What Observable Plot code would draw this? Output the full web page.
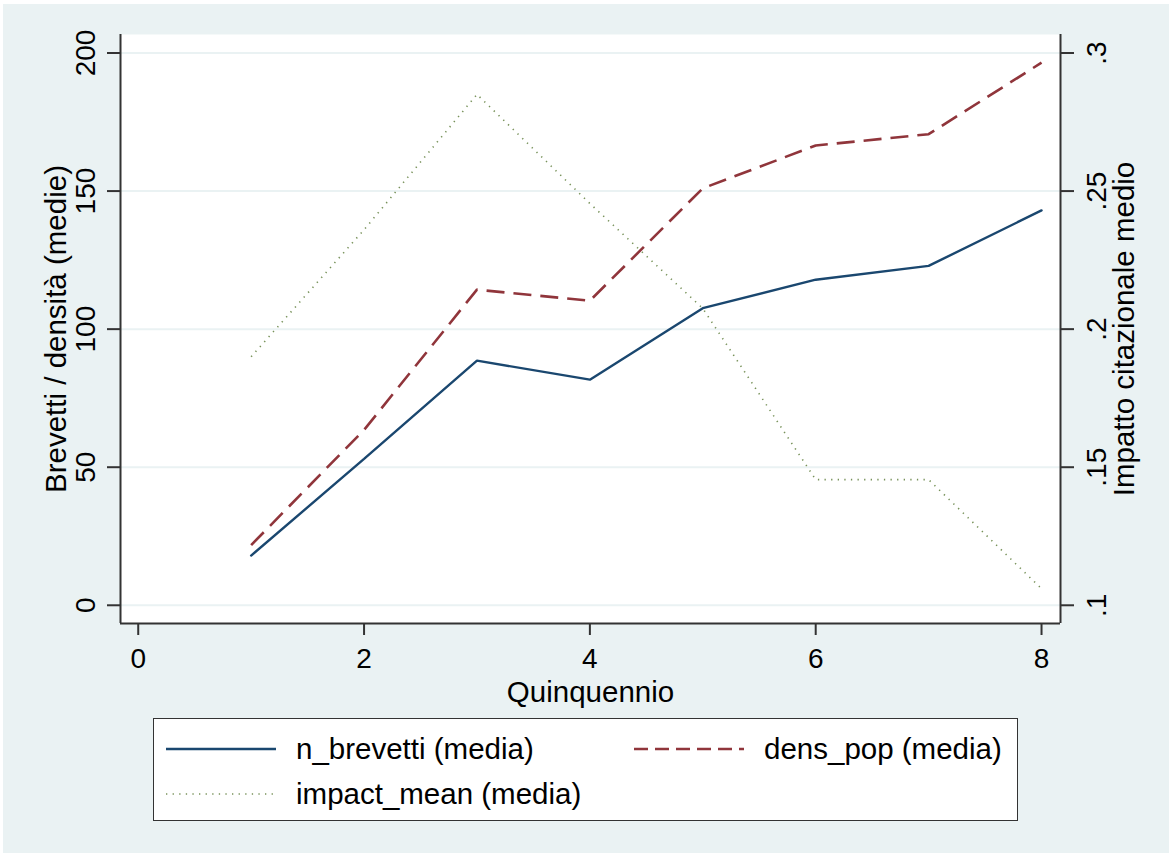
<!DOCTYPE html>
<html>
<head>
<meta charset="utf-8">
<script src="https://cdn.jsdelivr.net/npm/d3@7"></script>
<script src="https://cdn.jsdelivr.net/npm/@observablehq/plot@0.6"></script>
<style>
  html, body { margin: 0; padding: 0; background: white; }
  body { width: 1172px; height: 857px; position: relative; overflow: hidden;
         font-family: "Liberation Sans", Arial, sans-serif; }
  #bg { position: absolute; left: 3px; top: 4px; right: 3px; bottom: 4px; background: #eaf2f3; }
  #chart { position: absolute; left: 0; top: 0; }
  #legend { position: absolute; left: 153px; top: 718px; width: 865px; height: 103px;
            box-sizing: border-box; border: 1.6px solid #333; background: white; }
  .item { position: absolute; display: flex; align-items: center; height: 40px;
          transform: translateY(-50%); font-size: 29.5px; color: #000; white-space: nowrap; }
  .item svg { margin-right: 20px; overflow: visible; }
</style>
</head>
<body>
<div id="bg"></div>
<div id="chart"></div>
<div id="legend"></div>
<script>
// ---- Data ----
const quinquennio = [1, 2, 3, 4, 5, 6, 7, 8];
const nBrevetti   = [18.0, 53.0, 88.6, 81.7, 107.6, 117.9, 122.9, 143.0];
const densPop     = [21.8, 63.5, 114.3, 110.3, 151.0, 166.5, 170.6, 196.5];
const impactMean  = [0.190, 0.236, 0.285, 0.2455, 0.2075, 0.1455, 0.1455, 0.106];

const xTicks = [0, 2, 4, 6, 8];
const yTicks = [0, 50, 100, 150, 200];
const yTickLabels = ["0", "50", "100", "150", "200"];
const rightTicks = [0.1, 0.15, 0.2, 0.25, 0.3];
const rightTickLabels = [".1", ".15", ".2", ".25", ".3"];

const seriesNames = ["n_brevetti (media)", "dens_pop (media)", "impact_mean (media)"];
const xTitle = "Quinquennio";
const yTitle = "Brevetti / densità (medie)";
const y2Title = "Impatto citazionale medio";

// ---- Styles ----
const colBlue = "#1a476f", colRed = "#90353b", colGreen = "#55752f";
const axisColor = "#333";
const font = '"Liberation Sans", Arial, sans-serif';

// right axis (0.1..0.3) mapped onto left axis (0..200)
const rMin = 0.1, rMax = 0.3, lMin = 0, lMax = 200;
const toLeft = v => lMin + (v - rMin) / (rMax - rMin) * (lMax - lMin);

const rows = quinquennio.map((q, i) => ({q, nb: nBrevetti[i], dp: densPop[i], im: toLeft(impactMean[i])}));
const leftTickRows = yTicks.map((v, i) => ({v, label: yTickLabels[i]}));
const rightTickRows = rightTicks.map((v, i) => ({v: toLeft(v), label: rightTickLabels[i]}));

const xDomain = [-0.157, 8.168];
const yDomain = [-6.6, 206.7];

const chart = Plot.plot({
  width: 1172,
  height: 700,
  marginLeft: 120,
  marginRight: 112,
  marginTop: 34,
  marginBottom: 77,
  style: {background: "transparent", fontFamily: font, overflow: "visible"},
  x: {domain: xDomain},
  y: {domain: yDomain},
  marks: [
    Plot.frame({fill: "white", stroke: null}),
    Plot.gridY(yTicks, {stroke: "#eaf2f3", strokeOpacity: 1, strokeWidth: 2}),
    Plot.line(rows, {x: "q", y: "im", stroke: colGreen, strokeOpacity: 0.8, strokeWidth: 1.6,
                     strokeDasharray: "1.3 5.3", strokeLinecap: "butt", strokeLinejoin: "miter"}),
    Plot.line(rows, {x: "q", y: "dp", stroke: colRed, strokeWidth: 2.6,
                     strokeDasharray: "18 9", strokeLinecap: "butt", strokeLinejoin: "miter"}),
    Plot.line(rows, {x: "q", y: "nb", stroke: colBlue, strokeWidth: 2.4, strokeLinejoin: "miter"}),
    // axis lines
    Plot.ruleX([xDomain[0], xDomain[1]], {stroke: axisColor, strokeWidth: 2}),
    Plot.ruleY([yDomain[0]], {stroke: axisColor, strokeWidth: 2}),
    // bottom axis
    Plot.axisX(xTicks, {anchor: "bottom", tickSize: 12, tickPadding: 13, fontSize: 28,
                        stroke: axisColor, strokeWidth: 2, fill: "#000", label: null}),
    // left axis ticks + labels
    Plot.axisY(yTicks, {anchor: "left", tickSize: 13, stroke: axisColor, strokeWidth: 2,
                        tickFormat: () => "", label: null}),
    Plot.text(leftTickRows, {y: "v", text: "label", frameAnchor: "left", dx: -34, rotate: -90,
                             textAnchor: "middle", lineAnchor: "middle", fontSize: 28, fill: "#000"}),
    // right axis ticks + labels
    Plot.axisY(rightTickRows.map(d => d.v), {anchor: "right", tickSize: 13, stroke: axisColor,
                        strokeWidth: 2, tickFormat: () => "", label: null}),
    Plot.text(rightTickRows, {y: "v", text: "label", frameAnchor: "right", dx: 37, rotate: -90,
                              textAnchor: "middle", lineAnchor: "middle", fontSize: 28, fill: "#000"}),
    // titles
    Plot.text([xTitle], {frameAnchor: "bottom", dy: 69, textAnchor: "middle", lineAnchor: "middle", fontSize: 29.5, fill: "#000"}),
    Plot.text([yTitle], {frameAnchor: "left", dx: -64, rotate: -90, textAnchor: "middle", lineAnchor: "middle", fontSize: 29.5, fill: "#000"}),
    Plot.text([y2Title], {frameAnchor: "right", dx: 64, rotate: -90, textAnchor: "middle", lineAnchor: "middle", fontSize: 29.5, fill: "#000"})
  ]
});
document.getElementById("chart").appendChild(chart);

// ---- Legend ----
const legendItems = [
  {name: seriesNames[0], color: colBlue, width: 2.4, dash: null, opacity: 1, left: 12, top: 30},
  {name: seriesNames[1], color: colRed, width: 2.6, dash: "14 7", opacity: 1, left: 480, top: 30},
  {name: seriesNames[2], color: colGreen, width: 1.6, dash: "1.3 5.3", opacity: 0.8, left: 12, top: 75}
];
const legend = document.getElementById("legend");
for (const it of legendItems) {
  const div = document.createElement("div");
  div.className = "item";
  div.style.left = it.left + "px";
  div.style.top = it.top + "px";
  const ns = "http://www.w3.org/2000/svg";
  const svg = document.createElementNS(ns, "svg");
  svg.setAttribute("width", 110);
  svg.setAttribute("height", 10);
  const ln = document.createElementNS(ns, "line");
  ln.setAttribute("x1", 0); ln.setAttribute("x2", 110);
  ln.setAttribute("y1", 5); ln.setAttribute("y2", 5);
  ln.setAttribute("stroke", it.color);
  ln.setAttribute("stroke-width", it.width);
  ln.setAttribute("stroke-opacity", it.opacity);
  if (it.dash) ln.setAttribute("stroke-dasharray", it.dash);
  svg.appendChild(ln);
  const span = document.createElement("span");
  span.textContent = it.name;
  div.appendChild(svg);
  div.appendChild(span);
  legend.appendChild(div);
}
</script>
</body>
</html>
